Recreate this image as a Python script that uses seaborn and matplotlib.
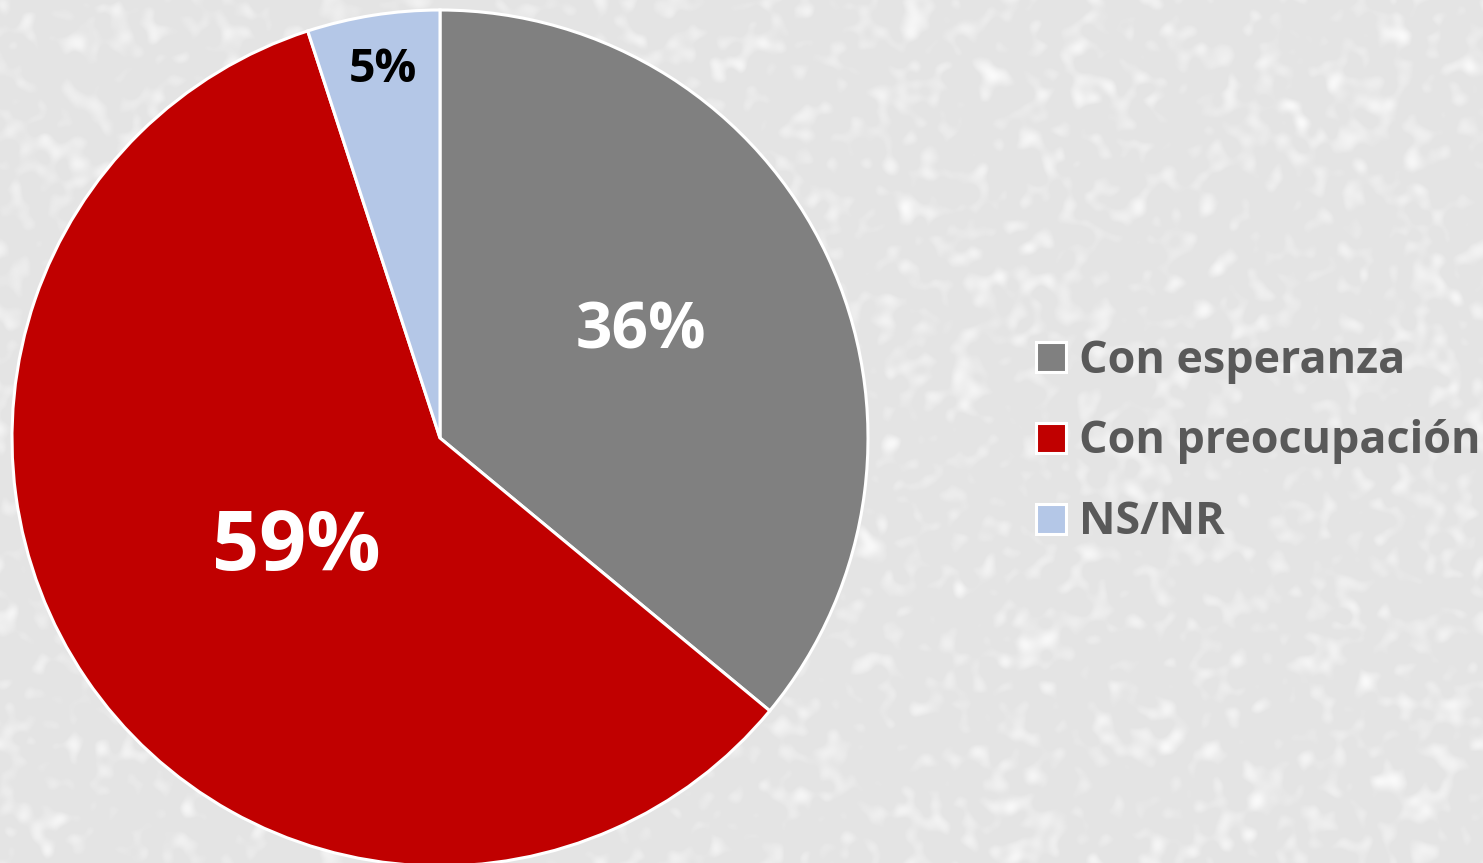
import numpy as np
import matplotlib
matplotlib.use("Agg")
import matplotlib.pyplot as plt
import seaborn as sns

categories = ["Con esperanza", "Con preocupación", "NS/NR"]
values = [36, 59, 5]
colors = ["#808080", "#C00000", "#B4C7E7"]
label_colors = ["white", "white", "black"]
label_sizes = [46, 59.5, 33.5]
label_radii = [0.531, 0.424, 0.872]
label_angle_shift = [2.6, 3.4, -0.2]

sns.set_theme(style="white")
plt.rcParams["font.family"] = ["Open Sans", "DejaVu Sans"]

W, H = 1483, 863
fig = plt.figure(figsize=(W / 100, H / 100), dpi=100)
fig.patch.set_facecolor("#e5e5e5")

# light mottled paper backdrop
rng = np.random.default_rng(7)
noise = rng.standard_normal((H, W))
fy = np.fft.fftfreq(H)[:, None]
fx = np.fft.fftfreq(W)[None, :]
kernel = np.exp(-(fx ** 2 + fy ** 2) * (2 * np.pi * 5.0) ** 2 / 2)
smooth = np.real(np.fft.ifft2(np.fft.fft2(noise) * kernel))
smooth = (smooth - smooth.mean()) / smooth.std()
tex = 0.895 + 0.025 * np.clip(smooth - 0.2, 0, None)
tex = np.clip(tex, 0, 1)
fig.figimage(np.dstack([tex, tex, tex]), xo=0, yo=0, origin="upper", zorder=-10)

# pie axes: centre (440, 438) px, radius 428 px
cx, cy, r = 440, 438, 428
ax = fig.add_axes([(cx - r) / W, (H - cy - r) / H, 2 * r / W, 2 * r / H])
ax.set_zorder(5)
ax.set_facecolor("none")

wedges, _ = ax.pie(values, colors=colors, startangle=90, counterclock=False,
                   radius=1.0,
                   wedgeprops=dict(edgecolor="white", linewidth=2.2))
ax.set_xlim(-1, 1)
ax.set_ylim(-1, 1)
ax.set_aspect("equal")
ax.axis("off")

for w, v, c, s, d, da in zip(wedges, values, label_colors, label_sizes,
                             label_radii, label_angle_shift):
    ang = np.deg2rad((w.theta1 + w.theta2) / 2 + da)
    ax.text(d * np.cos(ang), d * np.sin(ang), f"{v}%", color=c, fontsize=s,
            fontweight="bold", ha="center", va="center")

leg = fig.legend(wedges, categories, loc="center left",
                 bbox_to_anchor=(1036 / W, 1 - 442 / H), frameon=False,
                 prop=dict(family=["Open Sans", "DejaVu Sans"], weight="bold", size=32.3),
                 labelcolor="#595959", handlelength=0.66, handleheight=0.66,
                 handletextpad=0.3, labelspacing=0.8, borderpad=0, borderaxespad=0)
leg.set_zorder(6)

fig.savefig("out.png", dpi=100, facecolor=fig.get_facecolor())
